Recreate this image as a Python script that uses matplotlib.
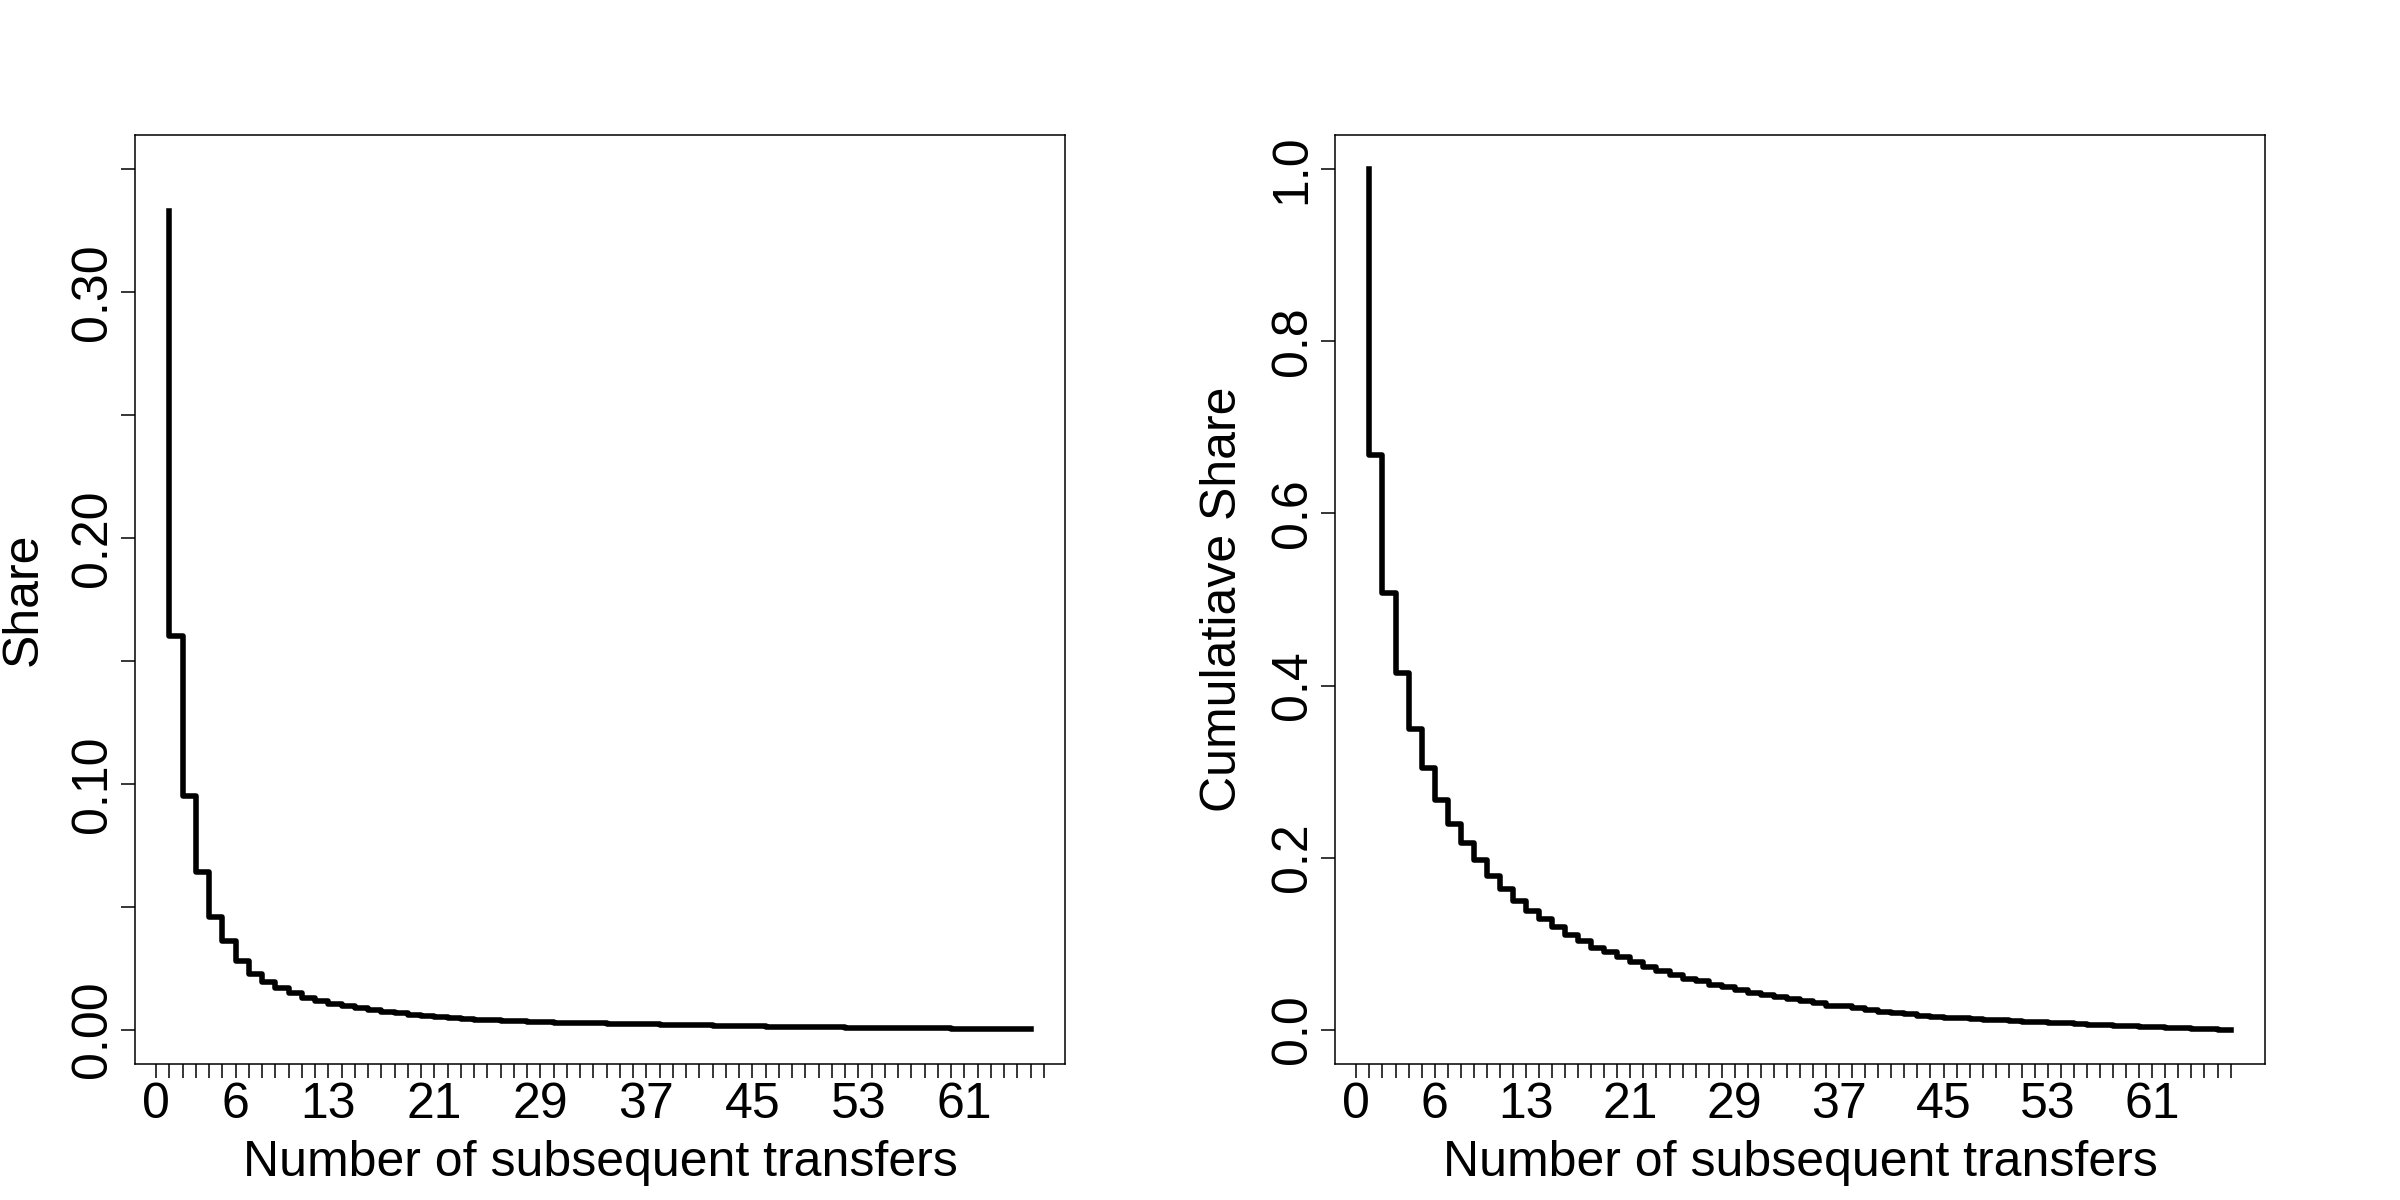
import matplotlib
matplotlib.use("Agg")
import matplotlib.pyplot as plt
import numpy as np

plt.rcParams['font.family'] = ['Liberation Sans', 'DejaVu Sans']

# share of transfers by number of subsequent transfers
share = [0.333, 0.160, 0.095, 0.064, 0.046, 0.036, 0.028, 0.0225, 0.0195, 0.0170,
         0.0150, 0.0130, 0.0115, 0.0103, 0.0094, 0.0086, 0.0080, 0.0072, 0.0066, 0.0060,
         0.0055, 0.0051, 0.0047, 0.0043, 0.0040, 0.0037, 0.0035, 0.0033, 0.0031, 0.0029,
         0.0028, 0.0027, 0.0026, 0.0025, 0.0024, 0.0023, 0.0022, 0.0021, 0.0020, 0.0019,
         0.0018, 0.0017, 0.0016, 0.0015, 0.0014, 0.0013, 0.0012, 0.0012, 0.0011, 0.0010,
         0.0010, 0.0009, 0.0008, 0.0008, 0.0007, 0.0007, 0.0006, 0.0006, 0.0005, 0.0005,
         0.0004, 0.0004, 0.0003, 0.0003, 0.0002, 0.0001]

cum_share = [1.000, 0.668, 0.508, 0.414, 0.350, 0.304, 0.267, 0.239, 0.217, 0.197,
             0.179, 0.164, 0.150, 0.138, 0.128, 0.119, 0.110, 0.103, 0.095, 0.090,
             0.084, 0.078, 0.073, 0.068, 0.064, 0.059, 0.056, 0.052, 0.049, 0.046,
             0.043, 0.040, 0.038, 0.035, 0.033, 0.031, 0.028, 0.027, 0.025, 0.023,
             0.021, 0.019, 0.018, 0.016, 0.015, 0.014, 0.0132, 0.0124, 0.0116, 0.0108,
             0.0100, 0.0092, 0.0085, 0.0078, 0.0071, 0.0064, 0.0057, 0.0051, 0.0045, 0.0039,
             0.0033, 0.0027, 0.0021, 0.0016, 0.0011, 0.0006, 0.0000]

x_ticks = list(range(0, 68))
x_labels_shown = [0, 6, 13, 21, 29, 37, 45, 53, 61]

left_yticks = [0, 0.05, 0.10, 0.15, 0.20, 0.25, 0.30, 0.35]
left_ylabels = {0: "0.00", 0.10: "0.10", 0.20: "0.20", 0.30: "0.30"}
right_yticks = [0, 0.2, 0.4, 0.6, 0.8, 1.0]

FS = 36

def rlim(lo, hi):
    d = (hi - lo) * 0.04
    return lo - d, hi + d

def style(ax, ylab, yticks, ylabs):
    ax.set_xticks(x_ticks)
    ax.set_xticklabels([str(t) if t in x_labels_shown else "" for t in x_ticks], fontsize=FS)
    ax.set_yticks(yticks)
    ax.set_yticklabels(ylabs, fontsize=FS, rotation=90, va='center')
    ax.tick_params(axis='both', direction='out', length=10, width=1.1, color='black')
    ax.tick_params(axis='x', pad=3)
    ax.tick_params(axis='y', pad=4)
    for s in ax.spines.values():
        s.set_linewidth(1.1)
    ax.set_xlabel("Number of subsequent transfers", fontsize=FS)
    ax.set_ylabel(ylab, fontsize=FS)
    ax.xaxis.set_label_coords(0.5, -0.107)
    ax.xaxis.label.set_va('center')
    ax.yaxis.set_label_coords(-0.12, 0.5)
    ax.yaxis.label.set_va('center')

fig = plt.figure(figsize=(24, 12), dpi=100)

ax1 = fig.add_axes([135 / 2400, 136 / 1200, 930 / 2400, 929 / 1200])
x1 = np.arange(1, len(share) + 1)
ax1.step(x1, share, where='pre', color='black', lw=4)
ax1.set_xlim(*rlim(1, len(share)))
ax1.set_ylim(*rlim(0, 0.35))
style(ax1, "Share", left_yticks,
      [left_ylabels.get(round(t, 2), "") for t in left_yticks])

ax2 = fig.add_axes([1335 / 2400, 136 / 1200, 930 / 2400, 929 / 1200])
x2 = np.arange(1, len(cum_share) + 1)
ax2.step(x2, cum_share, where='pre', color='black', lw=4)
ax2.set_xlim(*rlim(1, len(cum_share)))
ax2.set_ylim(*rlim(0, 1.0))
style(ax2, "Cumulatiave Share", right_yticks, ["%.1f" % t for t in right_yticks])

fig.savefig("out.png", dpi=100)
